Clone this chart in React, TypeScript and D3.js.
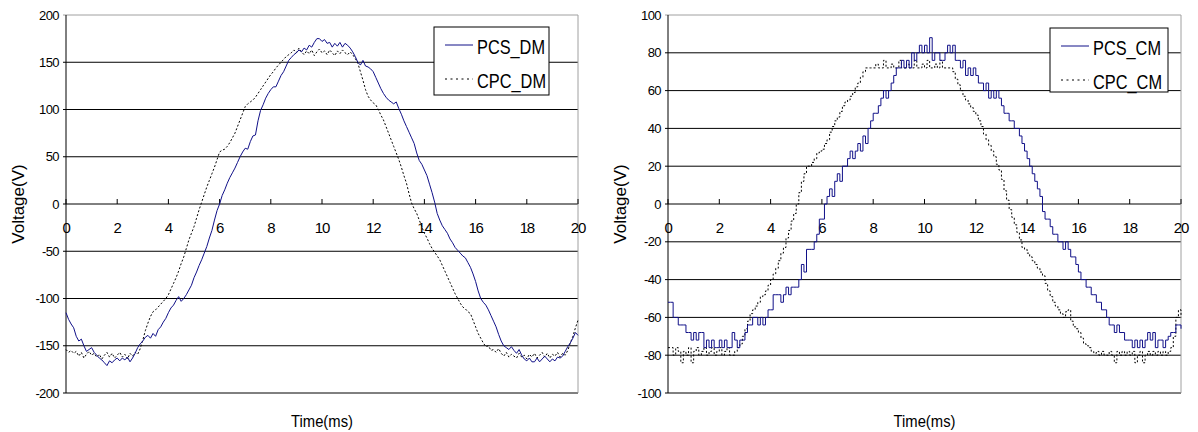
import React from "react";
import * as d3 from "d3";

// ---------------- DATA ----------------
// time samples in ms (0.0 .. 20.0, step 0.1)
const timeMs: number[] = d3.range(0, 201).map((i) => i / 10);

const xTicks: number[] = [0, 2, 4, 6, 8, 10, 12, 14, 16, 18, 20];
const yTicksDm: number[] = [-200, -150, -100, -50, 0, 50, 100, 150, 200];
const yTicksCm: number[] = [-100, -80, -60, -40, -20, 0, 20, 40, 60, 80, 100];

const seriesNamesDm: string[] = ["PCS_DM", "CPC_DM"];
const seriesNamesCm: string[] = ["PCS_CM", "CPC_CM"];

const pcsDm: number[] = [
  -115, -122, -127, -131, -140, -145, -143, -150, -156, -154,
  -152, -157, -160, -163, -165, -168, -171, -166, -168, -165,
  -163, -166, -163, -165, -162, -167, -163, -158, -152, -148,
  -145, -141, -139, -142, -137, -140, -133, -130, -125, -121,
  -115, -110, -107, -102, -98, -103, -100, -96, -91, -86,
  -78, -72, -65, -59, -52, -45, -36, -28, -17, -7,
  0, 9, 15, 22, 28, 33, 38, 44, 50, 55,
  59, 58, 66, 72, 73, 88, 99, 105, 112, 117,
  121, 124, 124, 130, 136, 140, 146, 152, 155, 158,
  160, 163, 161, 165, 163, 168, 166, 171, 175, 175,
  172, 174, 170, 171, 166, 170, 167, 171, 166, 170,
  168, 165, 161, 156, 150, 147, 152, 146, 145, 143,
  140, 134, 128, 122, 117, 113, 110, 108, 106, 108,
  101, 95, 88, 82, 76, 70, 64, 54, 46, 42,
  36, 30, 21, 12, 2, -10, -17, -23, -27, -31,
  -37, -41, -46, -49, -52, -55, -57, -62, -67, -74,
  -82, -92, -100, -104, -107, -112, -118, -124, -130, -138,
  -145, -150, -152, -154, -151, -155, -158, -154, -160, -164,
  -166, -163, -167, -167, -163, -167, -164, -161, -164, -167,
  -164, -166, -162, -163, -161, -156, -151, -147, -142, -136,
  -139,
];

const cpcDm: number[] = [
  -154, -157, -155, -158, -156, -161, -157, -163, -159, -156,
  -160, -158, -162, -159, -164, -160, -157, -162, -158, -163,
  -160, -157, -162, -159, -164, -158, -161, -157, -159, -153,
  -144, -134, -126, -119, -114, -112, -109, -106, -103, -100,
  -96, -90, -84, -78, -71, -63, -56, -47, -38, -31,
  -24, -15, -6, 2, 10, 18, 25, 32, 39, 47,
  55, 57, 58, 61, 65, 70, 75, 82, 89, 96,
  103, 106, 108, 110, 113, 117, 121, 125, 129, 133,
  137, 140, 144, 147, 150, 153, 156, 158, 160, 163,
  160, 165, 161, 158, 162, 159, 163, 157, 161, 164,
  160, 162, 158, 163, 160, 157, 162, 159, 163, 160,
  158, 161, 158, 154, 149, 140, 131, 121, 114, 110,
  107, 105, 100, 94, 89, 82, 75, 68, 61, 54,
  47, 39, 30, 22, 11, 1, -5, -10, -17, -24,
  -31, -36, -42, -47, -51, -55, -59, -65, -71, -77,
  -83, -89, -95, -100, -105, -109, -111, -114, -116, -123,
  -130, -137, -142, -147, -151, -150, -155, -154, -157, -153,
  -158, -161, -157, -162, -159, -161, -163, -158, -162, -160,
  -164, -159, -162, -158, -163, -160, -157, -162, -158, -163,
  -159, -161, -157, -162, -158, -160, -155, -147, -140, -131,
  -123,
];

const pcsCm: number[] = [
  -52, -52, -60, -60, -64, -64, -64, -68, -68, -72,
  -68, -72, -68, -68, -76, -72, -76, -72, -76, -76,
  -72, -76, -72, -76, -76, -68, -72, -76, -72, -72,
  -68, -64, -64, -60, -60, -64, -60, -64, -60, -56,
  -56, -48, -48, -48, -52, -48, -44, -48, -44, -44,
  -44, -40, -32, -36, -24, -24, -24, -20, -16, -8,
  -8, 0, 4, 8, 4, 12, 16, 12, 20, 20,
  24, 28, 24, 28, 32, 28, 36, 32, 40, 44,
  48, 48, 52, 56, 60, 56, 60, 64, 68, 72,
  72, 76, 72, 76, 72, 80, 76, 80, 84, 80,
  84, 80, 88, 76, 80, 80, 76, 76, 80, 84,
  80, 84, 76, 76, 72, 76, 68, 72, 68, 72,
  68, 64, 64, 60, 64, 56, 60, 56, 60, 56,
  52, 48, 48, 44, 44, 40, 40, 36, 32, 28,
  24, 20, 16, 12, 8, 4, -4, -8, -8, -12,
  -16, -16, -20, -20, -24, -20, -24, -28, -28, -32,
  -36, -40, -40, -44, -44, -48, -48, -52, -52, -56,
  -56, -60, -64, -64, -68, -64, -68, -68, -72, -72,
  -72, -76, -72, -76, -72, -76, -72, -68, -72, -68,
  -76, -72, -72, -76, -72, -70, -68, -68, -64, -64,
  -66,
];

const cpcCm: number[] = [
  -76, -76, -80, -76, -78, -84, -78, -80, -76, -84,
  -78, -76, -80, -78, -76, -80, -78, -76, -80, -78,
  -76, -80, -78, -76, -80, -80, -78, -76, -74, -70,
  -66, -62, -58, -56, -54, -52, -49, -48, -46, -43,
  -40, -37, -34, -30, -26, -23, -18, -14, -9, -5,
  0, 6, 12, 16, 20, 20, 22, 24, 27, 28,
  29, 32, 34, 38, 41, 44, 46, 49, 52, 54,
  55, 57, 59, 62, 64, 67, 70, 72, 72, 72,
  72, 74, 72, 72, 76, 72, 72, 74, 72, 72,
  76, 72, 72, 74, 72, 72, 76, 72, 72, 74,
  72, 76, 72, 72, 74, 72, 76, 72, 72, 72,
  72, 70, 66, 63, 60, 57, 55, 53, 51, 49,
  47, 44, 41, 37, 34, 31, 28, 25, 21, 18,
  13, 7, 2, -3, -7, -11, -15, -19, -23, -24,
  -26, -28, -30, -32, -34, -36, -38, -42, -46, -49,
  -52, -54, -56, -58, -60, -57, -56, -62, -65, -66,
  -68, -71, -74, -75, -76, -78, -79, -78, -80, -78,
  -80, -80, -78, -80, -84, -78, -80, -78, -80, -78,
  -80, -78, -84, -80, -78, -84, -80, -78, -80, -78,
  -80, -78, -80, -78, -80, -78, -76, -70, -60, -56,
  -60,
];

// ---------------- STYLE ----------------
const FONT = "'Liberation Sans', Arial, Helvetica, sans-serif";
const BLUE = "#101088";
const W = 1198;
const H = 432;

type ChartProps = {
  left: number;
  right: number;
  top: number;
  bottom: number;
  yDomain: [number, number];
  yTicks: number[];
  solid: number[];
  dotted: number[];
  names: string[];
  legend: { x0: number; x1: number; y0: number; y1: number };
  yTitleX: number;
  stepped: boolean;
};

function Chart(p: ChartProps) {
  const x = d3.scaleLinear().domain([0, 20]).range([p.left, p.right]);
  const y = d3.scaleLinear().domain(p.yDomain).range([p.bottom, p.top]);
  const lineGen = d3
    .line<number>()
    .x((_, i) => x(timeMs[i]))
    .y((d) => y(d))
    .curve(p.stepped ? d3.curveStepAfter : d3.curveLinear);
  const y0 = y(0);
  const lg = p.legend;
  const midX = (p.left + p.right) / 2;
  return (
    <g>
      {/* grid lines */}
      {p.yTicks.map((t) => (
        <line
          key={"g" + t}
          x1={p.left - 3}
          x2={p.right}
          y1={y(t)}
          y2={y(t)}
          stroke={t === p.yDomain[1] ? "#a0a0a0" : "#000"}
          strokeWidth={1}
        />
      ))}
      {/* frame */}
      <line x1={p.right} x2={p.right} y1={p.top} y2={p.bottom} stroke="#a0a0a0" />
      <line x1={p.left} x2={p.right} y1={p.bottom} y2={p.bottom} stroke="#808080" />
      <line x1={p.left} x2={p.left} y1={p.top} y2={p.bottom} stroke="#000" />
      {/* x ticks on zero line */}
      {xTicks.map((t) => (
        <line key={"xt" + t} x1={x(t)} x2={x(t)} y1={y0} y2={y0 - 5} stroke="#000" />
      ))}
      {/* y tick labels */}
      {p.yTicks.map((t) => (
        <text
          key={"yl" + t}
          x={p.left - 7}
          y={y(t) + 4.5}
          textAnchor="end"
          fontFamily={FONT}
          fontSize={13}
          letterSpacing={-0.6}
          fill="#000"
        >
          {t}
        </text>
      ))}
      {/* x tick labels */}
      {xTicks.map((t) => (
        <text
          key={"xl" + t}
          x={x(t)}
          y={y0 + 29}
          textAnchor="middle"
          fontFamily={FONT}
          fontSize={15}
          letterSpacing={-1.2}
          fill="#000"
        >
          {t}
        </text>
      ))}
      {/* series */}
      <path d={lineGen(p.dotted) || ""} fill="none" stroke="#000" strokeWidth={1} strokeDasharray="2,2" />
      <path d={lineGen(p.solid) || ""} fill="none" stroke={BLUE} strokeWidth={1} />
      {/* axis titles */}
      <text
        transform={`translate(${p.yTitleX},${y0}) rotate(-90)`}
        textAnchor="middle"
        fontFamily={FONT}
        fontSize={17}
        fill="#000"
      >
        Voltage(V)
      </text>
      <text
        x={midX - 31}
        y={427}
        fontFamily={FONT}
        fontSize={17}
        textLength={62}
        lengthAdjust="spacingAndGlyphs"
        fill="#000"
      >
        Time(ms)
      </text>
      {/* legend */}
      <rect
        x={lg.x0}
        y={lg.y0}
        width={lg.x1 - lg.x0}
        height={lg.y1 - lg.y0}
        fill="#fff"
        stroke="#000"
        strokeWidth={1}
      />
      <line x1={lg.x0 + 11} x2={lg.x0 + 39} y1={lg.y0 + 18} y2={lg.y0 + 18} stroke={BLUE} />
      <line
        x1={lg.x0 + 11}
        x2={lg.x0 + 39}
        y1={lg.y0 + 52}
        y2={lg.y0 + 52}
        stroke="#000"
        strokeDasharray="2,3.5"
      />
      <text
        x={lg.x0 + 43}
        y={lg.y0 + 26.5}
        fontFamily={FONT}
        fontSize={21}
        textLength={68}
        lengthAdjust="spacingAndGlyphs"
        fill="#000"
      >
        {p.names[0]}
      </text>
      <text
        x={lg.x0 + 43}
        y={lg.y0 + 60.5}
        fontFamily={FONT}
        fontSize={21}
        textLength={69}
        lengthAdjust="spacingAndGlyphs"
        fill="#000"
      >
        {p.names[1]}
      </text>
    </g>
  );
}

export default function App() {
  return (
    <svg
      width={W}
      height={H}
      style={{ position: "absolute", left: 0, top: 0, background: "#fff" }}
    >
      <rect x={0} y={0} width={W} height={H} fill="#fff" />
      <Chart
        left={66}
        right={578}
        top={15}
        bottom={393}
        yDomain={[-200, 200]}
        yTicks={yTicksDm}
        solid={pcsDm}
        dotted={cpcDm}
        names={seriesNamesDm}
        legend={{ x0: 434, x1: 549, y0: 27, y1: 95 }}
        yTitleX={24}
        stepped={false}
      />
      <Chart
        left={668}
        right={1181}
        top={15}
        bottom={393}
        yDomain={[-100, 100]}
        yTicks={yTicksCm}
        solid={pcsCm}
        dotted={cpcCm}
        names={seriesNamesCm}
        legend={{ x0: 1050, x1: 1168, y0: 28, y1: 92 }}
        yTitleX={626}
        stepped={true}
      />
    </svg>
  );
}
